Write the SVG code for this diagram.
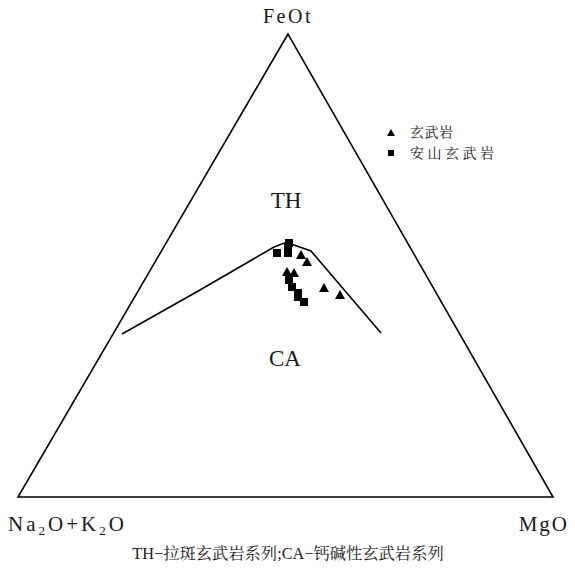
<svg xmlns="http://www.w3.org/2000/svg" width="575" height="570" viewBox="0 0 575 570">
<style>
.ln{fill:none;stroke:#000;stroke-width:1.6}
.t{font-family:"Liberation Serif","Noto Sans CJK SC",serif;fill:#1a1a1a}
.c{font-family:"Liberation Serif","Noto Serif CJK SC","Noto Sans CJK SC",serif;fill:#1a1a1a}
.m{fill:#000}
</style>
<defs>
<rect id="sq" x="-4" y="-4" width="8" height="8"/>
<polygon id="tr" points="0,-5 5,4 -5,4"/>
<rect id="lsq" x="-3" y="-3" width="6" height="6"/>
<polygon id="ltr" points="0,-4 4,3 -4,3"/>
</defs>
<rect width="575" height="570" fill="#fff"/>
<g id="triangle"><polygon class="ln" points="288,34 18,497 553,497"/></g>
<g id="connectors"><polyline class="ln" points="122,334 200,290 274,247 287,242 294,245 311,251 381,333"/></g>
<g id="labels">
<text class="t" x="288" y="23" font-size="20" letter-spacing="2.5" text-anchor="middle">FeOt</text>
<text class="t" x="8" y="531" font-size="21" letter-spacing="3">Na<tspan font-size="13" dy="4">2</tspan><tspan dy="-4">O+K</tspan><tspan font-size="13" dy="4">2</tspan><tspan dy="-4">O</tspan></text>
<text class="t" x="569" y="531" font-size="21" letter-spacing="2" text-anchor="end">MgO</text>
<text class="t" x="286" y="208" font-size="23" text-anchor="middle">TH</text>
<text class="t" x="285" y="366" font-size="23" text-anchor="middle">CA</text>
<text class="c" x="288" y="559" font-size="16.3" text-anchor="middle">TH−拉斑玄武岩系列;CA−钙碱性玄武岩系列</text>
</g>
<g id="legend">
<use href="#ltr" class="m" x="391" y="133"/>
<text class="c" x="410" y="137" font-size="14" letter-spacing="0.5">玄武岩</text>
<use href="#lsq" class="m" x="391" y="153"/>
<text class="c" x="410" y="158" font-size="14" letter-spacing="3.5">安山玄武岩</text>
</g>
<g id="points">
<use href="#sq" class="m" x="289" y="243"/>
<use href="#sq" class="m" x="288" y="248"/>
<use href="#sq" class="m" x="277" y="253"/>
<use href="#sq" class="m" x="288" y="253"/>
<use href="#sq" class="m" x="289" y="280"/>
<use href="#sq" class="m" x="292" y="287"/>
<use href="#sq" class="m" x="298" y="293"/>
<use href="#sq" class="m" x="298" y="297"/>
<use href="#sq" class="m" x="304" y="302"/>
<use href="#tr" class="m" x="301" y="255"/>
<use href="#tr" class="m" x="307" y="262"/>
<use href="#tr" class="m" x="287" y="272"/>
<use href="#tr" class="m" x="294" y="273"/>
<use href="#tr" class="m" x="324" y="288"/>
<use href="#tr" class="m" x="340" y="295"/>
</g>
</svg>
